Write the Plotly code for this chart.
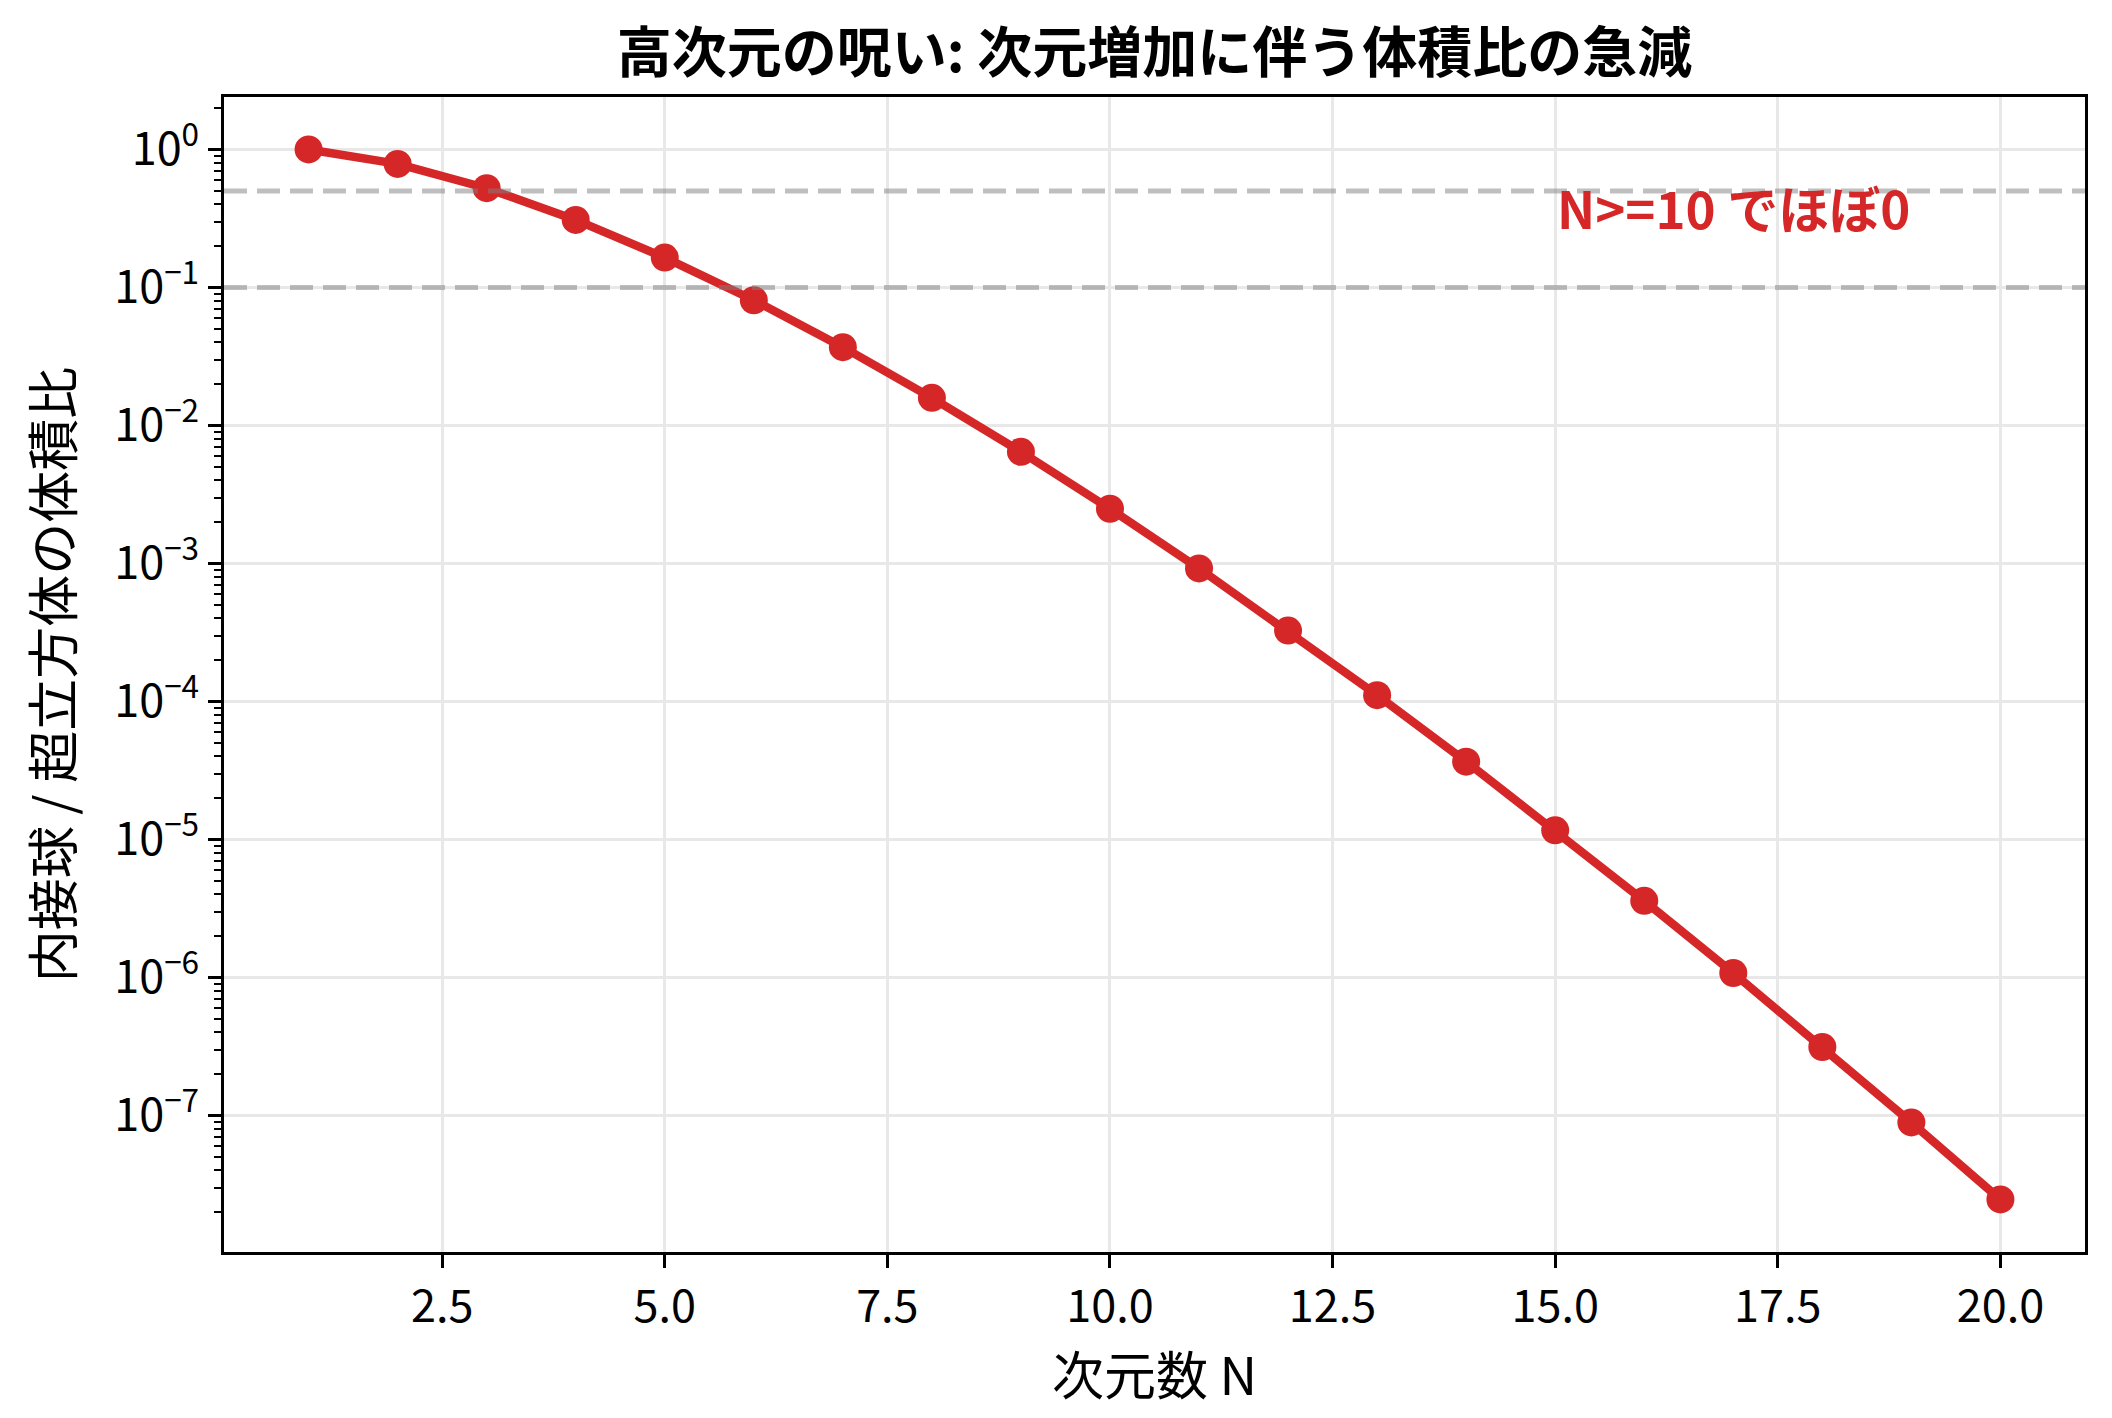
import plotly.graph_objects as go

# 次元数 N と 内接球 / 超立方体 の体積比
dims = list(range(1, 21))
ratio = [1.0, 0.7854, 0.5236, 0.3084, 0.1645, 0.08075, 0.03691, 0.01585,
         0.006442, 0.00249, 0.00092, 0.000326, 0.000111, 3.66e-05,
         1.164e-05, 3.59e-06, 1.076e-06, 3.13e-07, 8.89e-08, 2.46e-08]

# 参照線
ref_levels = [0.5, 0.1]

# 目盛り
x_ticks = [2.5, 5.0, 7.5, 10.0, 12.5, 15.0, 17.5, 20.0]
y_tick_vals = [1, 1e-1, 1e-2, 1e-3, 1e-4, 1e-5, 1e-6, 1e-7]
y_tick_text = ["10<sup>0</sup>", "10<sup>−1</sup>", "10<sup>−2</sup>", "10<sup>−3</sup>",
               "10<sup>−4</sup>", "10<sup>−5</sup>", "10<sup>−6</sup>", "10<sup>−7</sup>"]

FONT = "Noto Sans CJK JP"
RED = "#d62728"

fig = go.Figure()

for lv in ref_levels:
    fig.add_hline(y=lv, line=dict(color="rgba(128,128,128,0.5)", width=5, dash="23px,10px"))

fig.add_trace(go.Scatter(
    x=dims, y=ratio, mode="lines+markers",
    line=dict(color=RED, width=8.5),
    marker=dict(color=RED, size=28),
    showlegend=False,
))

fig.add_annotation(
    x=15, y=-0.42, xref="x", yref="y",
    text="<b>N>=10 でほぼ0</b>", showarrow=False,
    xanchor="left", yanchor="middle",
    font=dict(family=FONT, size=51, color=RED),
)

axis_common = dict(
    showline=True, linecolor="black", linewidth=2.8, mirror=True,
    ticks="outside", ticklen=13, tickwidth=2.8, tickcolor="black",
    showgrid=True, gridcolor="#e8e8e8", gridwidth=3,
    zeroline=False,
    tickfont=dict(family=FONT, size=45, color="black"),
)

fig.update_xaxes(
    range=[0.05, 20.95], tickvals=x_ticks, tickformat=".1f",
    title=dict(text="次元数 N", font=dict(family=FONT, size=52, color="black"), standoff=4),
    **axis_common,
)
fig.update_yaxes(
    type="log", range=[-7.99, 0.38],
    tickvals=y_tick_vals, ticktext=y_tick_text,
    minor=dict(ticks="outside", ticklen=7, tickwidth=2.1, tickcolor="black",
               dtick="D1", showgrid=False),
    title=dict(text="内接球 / 超立方体の体積比", font=dict(family=FONT, size=52, color="black"), standoff=24),
    **axis_common,
)

# ページ本体の余白 (8px) を見込んで配置
fig.update_layout(
    width=2104, height=1410,
    margin=dict(l=216, r=27, t=89, b=166),
    paper_bgcolor="white", plot_bgcolor="white",
    title=dict(text="<b>高次元の呪い: 次元増加に伴う体積比の急減</b>",
               font=dict(family=FONT, size=55, color="black"),
               x=(216 + (2104 - 27)) / 2 / 2104, xanchor="center",
               y=1 - 45 / 1410, yanchor="middle"),
)

fig.write_html("out.html")
